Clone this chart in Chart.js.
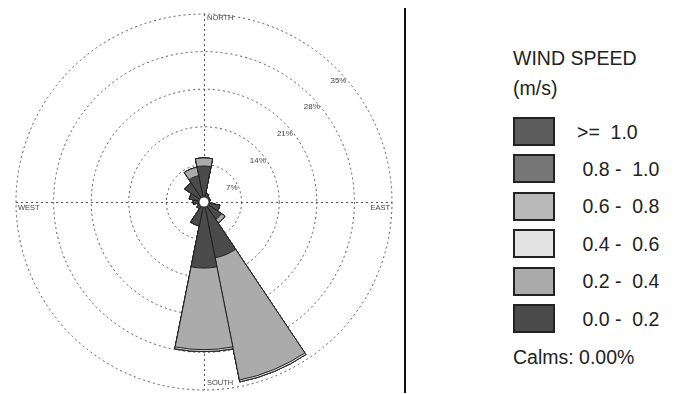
<!DOCTYPE html>
<html>
<head>
  <meta charset="UTF-8" />
  <title>Wind Rose</title>
  <style>
    body {
      margin: 0;
      width: 689px;
      height: 394px;
      overflow: hidden;
      background-color: white;
      font-family: "Liberation Sans", Arial, sans-serif;
      color: #222;
    }
    #roseBox {
      position: absolute;
      left: 12px;
      top: 10px;
      width: 384px;
      height: 384px;
    }
    .divider {
      position: absolute;
      left: 404px;
      top: 8px;
      width: 2px;
      height: 385px;
      background: #111;
    }
    .legend div {
      position: absolute;
      font-size: 19.5px;
      line-height: 24px;
      white-space: pre;
    }
    .legend .swatch {
      width: 38px;
      height: 25px;
      border: 2px solid #222;
    }
  </style>
  <script src="https://cdn.jsdelivr.net/npm/chart.js"></script>
</head>
<body>

<div id="roseBox"><canvas id="rose"></canvas></div>
<div class="divider"></div>
<div class="legend" id="legend"></div>

<script>
// Directions, clockwise from north
const directions = ["N", "NNE", "NE", "ENE", "E", "ESE", "SE", "SSE", "S", "SSW", "SW", "WSW", "W", "WNW", "NW", "NNW"];

// Frequency (%) per direction for each speed class (m/s)
const speed00_02 = [6.7, 1.6, 1.2, 1.2, 1.0, 3.0, 3.9, 10.6, 12.3, 4.5, 1.6, 1.2, 2.0, 2.8, 4.3, 5.0];
const speed02_04 = [1.5, 0, 0, 0, 0, 0, 0.8, 23.2, 15.2, 0, 0, 0, 0, 0, 0, 1.6];
const speed04_06 = [0, 0, 0, 0, 0, 0, 0, 0.35, 0.35, 0, 0, 0, 0, 0, 0, 0];
const speed06_08 = [0, 0, 0, 0, 0, 0, 0, 0, 0, 0, 0, 0, 0, 0, 0, 0];
const speed08_10 = [0, 0, 0, 0, 0, 0, 0, 0, 0, 0, 0, 0, 0, 0, 0, 0];
const speed10_up = [0, 0, 0, 0, 0, 0, 0, 0, 0, 0, 0, 0, 0, 0, 0, 0];

const speedLabels = ["0.0 - 0.2", "0.2 - 0.4", "0.4 - 0.6", "0.6 - 0.8", "0.8 - 1.0", ">= 1.0"];
const legendTexts = [" 0.0 -  0.2", " 0.2 -  0.4", " 0.4 -  0.6", " 0.6 -  0.8", " 0.8 -  1.0", ">=  1.0"];
const speedColors = ["#4b4b4b", "#ababab", "#e3e3e3", "#b9b9b9", "#777777", "#5c5c5c"];

// Rings and their labels
const ringValues = [7, 14, 21, 28, 35];
const ringLabels = ["7%", "14%", "21%", "28%", "35%"];
const calms = "0.00%";

const speedSeries = [speed00_02, speed02_04, speed04_06, speed06_08, speed08_10, speed10_up];

// Stack the classes: each dataset holds the running total, inner classes drawn on top
const datasets = [];
let running = directions.map(() => 0);
speedSeries.forEach((series, k) => {
    running = running.map((v, i) => v + series[i]);
    datasets.push({
        label: speedLabels[k],
        data: running.slice(),
        backgroundColor: speedColors[k],
        borderColor: "#222",
        borderWidth: 1
    });
});

// Compass cross, ring labels, direction names and calm circle
const roseDecor = {
    id: "roseDecor",
    beforeDatasetsDraw(chart) {
        const s = chart.scales.r;
        const ctx = chart.ctx;
        const cx = s.xCenter, cy = s.yCenter, r = s.drawingArea;
        ctx.save();
        ctx.strokeStyle = "#555";
        ctx.lineWidth = 1;
        ctx.setLineDash([2, 3]);
        ctx.beginPath();
        ctx.moveTo(cx + 0.5, cy - r);
        ctx.lineTo(cx + 0.5, cy + r);
        ctx.moveTo(cx - r, cy + 0.5);
        ctx.lineTo(cx + r, cy + 0.5);
        ctx.stroke();
        ctx.restore();
    },
    afterDatasetsDraw(chart) {
        const s = chart.scales.r;
        const ctx = chart.ctx;
        const cx = s.xCenter, cy = s.yCenter, r = s.drawingArea;
        ctx.save();

        // calm circle
        ctx.fillStyle = "white";
        ctx.beginPath();
        ctx.arc(cx, cy, 4.5, 0, Math.PI * 2);
        ctx.fill();

        ctx.fillStyle = "#444";
        ctx.textBaseline = "middle";
        ctx.font = '8px "Liberation Sans", Arial, sans-serif';
        ctx.textAlign = "right";
        ringValues.forEach((v, i) => {
            const d = s.getDistanceFromCenterForValue(v);
            const dy = 0.71 * d - 12;
            const dx = Math.sqrt(d * d - dy * dy);
            ctx.fillText(ringLabels[i], cx + dx - 1, cy - dy);
        });

        ctx.font = '7.5px "Liberation Sans", Arial, sans-serif';
        ctx.textAlign = "left";
        ctx.fillText("NORTH", cx + 3, cy - r + 4);
        ctx.fillText("WEST", cx - r + 2, cy + 6);
        ctx.fillText("SOUTH", cx + 3, cy + r - 7);
        ctx.textAlign = "right";
        ctx.fillText("EAST", cx + r - 2, cy + 6);
        ctx.restore();
    }
};

new Chart(document.getElementById("rose"), {
    type: "polarArea",
    data: { labels: directions, datasets: datasets },
    options: {
        responsive: true,
        maintainAspectRatio: false,
        animation: false,
        events: [],
        layout: { padding: 4 },
        plugins: { legend: { display: false }, tooltip: { enabled: false } },
        scales: {
            r: {
                min: 0,
                max: 35,
                startAngle: -11.25,
                afterBuildTicks: s => { s.ticks = [0].concat(ringValues).map(v => ({ value: v })); },
                ticks: { display: false },
                grid: { circular: true, color: "#555", lineWidth: 1 },
                border: { dash: [2, 3] },
                angleLines: { display: false },
                pointLabels: { display: false }
            }
        }
    },
    plugins: [roseDecor]
});

// Legend on the right, highest class first
const legend = document.getElementById("legend");
function addText(text, left, centerY) {
    const el = document.createElement("div");
    el.textContent = text;
    el.style.left = left + "px";
    el.style.top = (centerY - 12) + "px";
    legend.appendChild(el);
}
addText("WIND SPEED", 513, 58);
addText("(m/s)", 513, 88);
for (let k = speedLabels.length - 1, row = 0; k >= 0; k--, row++) {
    const top = 117 + row * 37.4;
    const box = document.createElement("div");
    box.className = "swatch";
    box.style.left = "513px";
    box.style.top = top + "px";
    box.style.background = speedColors[k];
    legend.appendChild(box);
    addText(legendTexts[k], 577, top + 14.5);
}
addText("Calms: " + calms, 513, 357);
</script>

</body>
</html>
